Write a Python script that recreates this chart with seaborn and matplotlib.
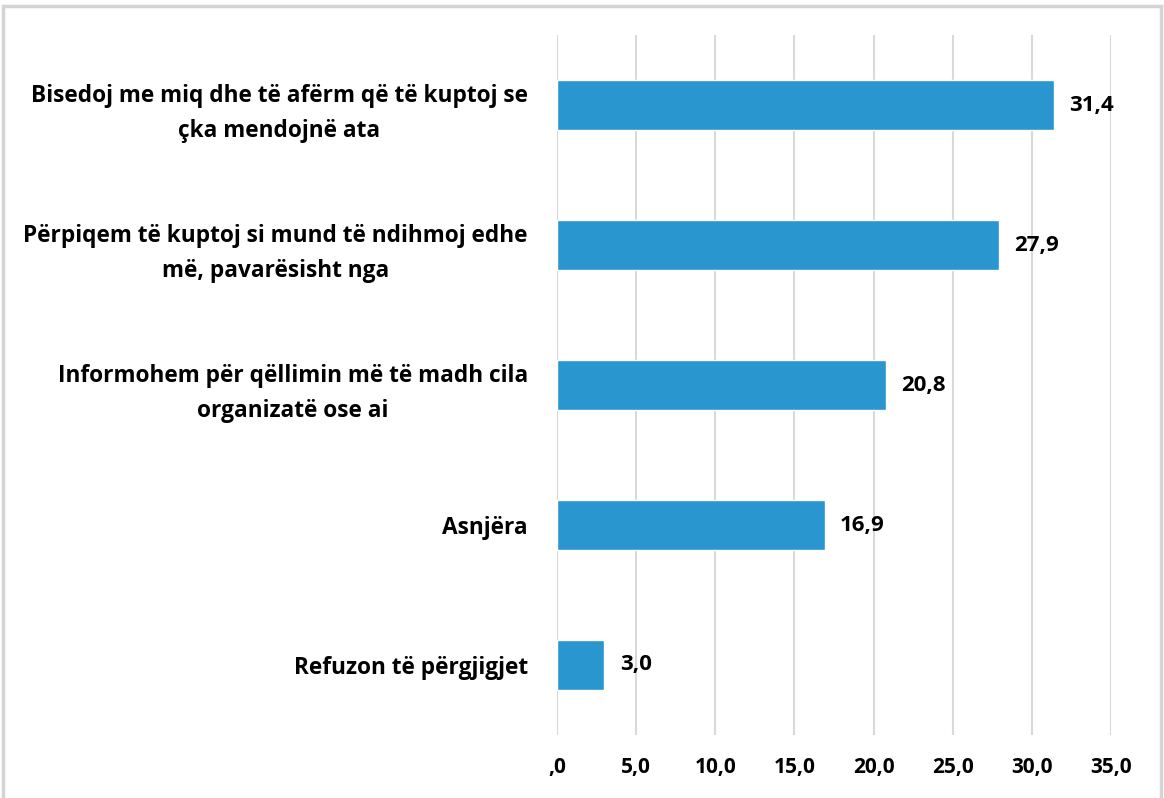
import matplotlib
matplotlib.use('Agg')
import matplotlib.pyplot as plt
import pandas as pd
import seaborn as sns
from matplotlib.patches import Rectangle


categories = [
    'Bisedoj me miq dhe të afërm që të kuptoj se\nçka mendojnë ata',
    'Përpiqem të kuptoj si mund të ndihmoj edhe\nmë, pavarësisht nga',
    'Informohem për qëllimin më të madh cila\norganizatë ose ai',
    'Asnjëra',
    'Refuzon të përgjigjet',
]
values = [31.4, 27.9, 20.8, 16.9, 3.0]
x_ticks = [0, 5, 10, 15, 20, 25, 30, 35]


def comma_fmt(v):
    s = f'{v:.1f}'.replace('.', ',')
    return s[1:] if s.startswith('0,') else s


def main():
    sns.set_style('white')
    plt.rcParams['font.family'] = ['Open Sans', 'DejaVu Sans']
    plt.rcParams['text.color'] = 'black'

    df = pd.DataFrame({'Category': categories, 'Value': values})

    fig = plt.figure(figsize=(11.64, 7.98), dpi=100)
    fig.patch.set_facecolor('white')
    # outer frame like the screenshot
    fig.patches.append(Rectangle((0.003, -0.01), 0.994, 1.003, transform=fig.transFigure,
                                 fill=False, edgecolor='#d4d4d4', linewidth=2.5))
    ax = fig.add_axes([0.4785, 0.079, 0.476, 0.877])

    sns.barplot(data=df, y='Category', x='Value', color='#2a96d0', width=0.357,
                saturation=1, ax=ax, orient='h')

    ax.set_xlim(0, 35)
    ax.set_ylim(4.5, -0.5)
    ax.set_xticks(x_ticks)
    ax.set_xticklabels([comma_fmt(t) for t in x_ticks], fontsize=15, fontweight='bold', color='black')
    ax.tick_params(axis='x', length=0, pad=16)
    ax.tick_params(axis='y', length=0, pad=21)
    for lbl in ax.get_yticklabels():
        lbl.set_fontsize(16.3)
        lbl.set_fontweight('bold')
        lbl.set_color('black')
        lbl.set_multialignment('center')
        lbl.set_linespacing(1.6)
    ax.set_xlabel('')
    ax.set_ylabel('')
    ax.grid(axis='x', color='#d9d9d9', linewidth=1.5)
    ax.set_axisbelow(True)
    sns.despine(ax=ax, left=True, bottom=True, top=True, right=True)

    for i, v in enumerate(values):
        ax.annotate(comma_fmt(v), (v, i), xytext=(11, 0), textcoords='offset points',
                    ha='left', va='center', fontsize=16, fontweight='bold', color='black')

    fig.savefig('out.png', dpi=100)


if __name__ == '__main__':
    main()
